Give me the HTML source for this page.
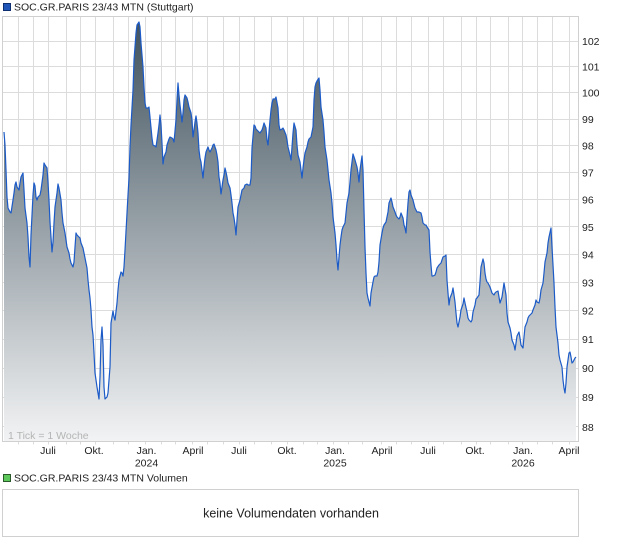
<!DOCTYPE html>
<html>
<head>
<meta charset="utf-8">
<style>
html,body{margin:0;padding:0;background:#fff;}
svg{display:block;font-family:"Liberation Sans",Arial,sans-serif;}
</style>
</head>
<body>
<svg width="620" height="546" viewBox="0 0 620 546" xmlns="http://www.w3.org/2000/svg">
<defs>
<linearGradient id="g" x1="0" y1="16" x2="0" y2="441" gradientUnits="userSpaceOnUse">
<stop offset="0" stop-color="#3e505c"/>
<stop offset="1" stop-color="#f2f3f4"/>
</linearGradient>
</defs>

<!-- top legend -->
<rect x="3.5" y="3.5" width="7" height="7" fill="#1f56b8" stroke="#0d2f70" stroke-width="1"/>
<text x="14" y="10.5" font-size="10.5" fill="#222">SOC.GR.PARIS 23/43 MTN (Stuttgart)</text>

<!-- grid -->
<g stroke="#dcdcdc" stroke-width="1" fill="none">
<path d="M2.5,41.5H578.5M2.5,66.5H578.5M2.5,92.5H578.5M2.5,119.5H578.5M2.5,145.5H578.5M2.5,172.5H578.5M2.5,199.5H578.5M2.5,226.5H578.5M2.5,254.5H578.5M2.5,282.5H578.5M2.5,310.5H578.5M2.5,339.5H578.5M2.5,368.5H578.5M2.5,397.5H578.5M2.5,426.5H578.5"/>
<path d="M18.5,16.5V441.5M33.5,16.5V441.5M48.5,16.5V441.5M66.5,16.5V441.5M80.5,16.5V441.5M95.5,16.5V441.5M113.5,16.5V441.5M128.5,16.5V441.5M145.5,16.5V441.5M161.5,16.5V441.5M175.5,16.5V441.5M192.5,16.5V441.5M207.5,16.5V441.5M223.5,16.5V441.5M239.5,16.5V441.5M254.5,16.5V441.5M271.5,16.5V441.5M287.5,16.5V441.5M303.5,16.5V441.5M317.5,16.5V441.5M333.5,16.5V441.5M348.5,16.5V441.5M362.5,16.5V441.5M381.5,16.5V441.5M396.5,16.5V441.5M411.5,16.5V441.5M428.5,16.5V441.5M443.5,16.5V441.5M461.5,16.5V441.5M476.5,16.5V441.5M490.5,16.5V441.5M508.5,16.5V441.5M522.5,16.5V441.5M537.5,16.5V441.5M552.5,16.5V441.5M569.5,16.5V441.5"/>
<path d="M18.5,441.5V444.5M33.5,441.5V444.5M48.5,441.5V444.5M66.5,441.5V444.5M80.5,441.5V444.5M95.5,441.5V444.5M113.5,441.5V444.5M128.5,441.5V444.5M145.5,441.5V444.5M161.5,441.5V444.5M175.5,441.5V444.5M192.5,441.5V444.5M207.5,441.5V444.5M223.5,441.5V444.5M239.5,441.5V444.5M254.5,441.5V444.5M271.5,441.5V444.5M287.5,441.5V444.5M303.5,441.5V444.5M317.5,441.5V444.5M333.5,441.5V444.5M348.5,441.5V444.5M362.5,441.5V444.5M381.5,441.5V444.5M396.5,441.5V444.5M411.5,441.5V444.5M428.5,441.5V444.5M443.5,441.5V444.5M461.5,441.5V444.5M476.5,441.5V444.5M490.5,441.5V444.5M508.5,441.5V444.5M522.5,441.5V444.5M537.5,441.5V444.5M552.5,441.5V444.5M569.5,441.5V444.5"/>
</g>

<!-- area fill -->
<path fill="url(#g)" stroke="none" d="M4,441 L4,132 5,145 6,170 7,197 8,208 10,212 11,213 13,200 14,193 15,185 16,182 17,187 19,190 20,183 21,177 23,173 24,190 25,208 27,223 28,237 29,257 30,267 31,235 32,215 33,195 34,183 35,186 36,197 37,200 38,197 40,195 41,190 43,175 44,163 45,165 47,168 48,182 49,200 50,222 52,252 53,242 54,223 55,207 57,193 58,184 59,188 61,200 62,213 63,223 65,233 66,240 67,247 69,253 70,259 71,263 73,267 74,262 75,247 76,233 77,235 79,237 80,238 81,243 83,248 84,253 85,258 87,268 88,280 89,290 90,298 91,310 92,327 93,335 94,353 95,373 97,387 98,393 99,399 100,377 101,340 102,327 103,345 104,387 105,399 107,397 108,393 110,367 111,323 113,311 114,317 115,320 117,303 118,290 119,280 121,272 122,273 123,276 124,267 125,250 127,213 128,195 129,178 130,147 131,125 133,90 134,60 136,33 137,25 139,22 140,27 141,43 143,67 144,87 145,103 146,108 148,108 149,107 150,117 152,138 153,145 155,146 156,147 158,133 159,125 160,115 161,125 162,143 163,164 164,157 166,152 167,145 168,142 169,139 170,137 172,138 173,139 174,142 176,120 177,100 178,83 179,95 180,105 181,113 182,122 183,113 184,100 185,95 187,98 188,102 189,107 191,113 192,120 193,137 194,130 195,122 196,116 197,123 198,133 199,150 200,158 201,162 202,170 203,178 204,167 205,158 206,152 208,147 209,150 210,152 212,148 213,145 214,144 216,150 217,155 218,162 219,177 220,183 221,194 222,187 223,180 224,175 225,168 226,172 227,177 228,183 230,188 231,195 232,203 233,213 234,218 235,225 236,235 237,220 238,207 240,200 241,195 242,190 244,188 245,185 247,184 248,185 250,185 251,178 252,148 254,125 255,126 256,129 258,131 259,132 260,133 262,130 263,127 264,123 266,128 267,140 268,145 269,132 270,120 271,110 272,103 273,99 275,99 276,97 278,108 279,125 280,130 282,129 283,128 284,130 286,135 287,140 288,147 290,155 291,160 292,147 293,133 294,123 296,130 297,145 298,155 300,162 301,170 302,178 303,168 304,160 305,153 307,147 308,142 309,139 311,137 313,127 314,100 315,87 316,83 317,81 319,78 320,90 321,107 323,120 324,132 325,147 327,160 328,170 329,180 331,193 332,203 333,217 335,233 336,245 337,260 338,270 339,257 340,245 341,237 342,230 343,227 345,223 346,213 347,203 349,193 350,182 351,170 353,154 354,157 355,160 357,167 358,173 359,182 360,170 361,163 362,156 363,170 364,210 365,247 366,273 367,293 368,298 369,302 370,306 371,293 373,282 374,277 375,276 377,276 378,272 379,262 380,245 382,233 383,228 384,225 386,222 387,217 388,212 389,203 391,198 392,202 393,207 395,212 396,215 397,217 399,219 400,217 401,213 403,218 404,225 405,228 406,233 407,217 408,203 409,192 410,190 411,195 413,200 414,204 415,208 417,212 418,212 419,212 421,213 422,217 423,223 425,225 426,225 427,227 429,230 430,252 431,265 432,276 433,276 435,275 436,272 437,268 439,265 441,263 442,260 443,257 445,256 446,255 447,280 448,293 449,305 450,298 452,293 453,288 454,295 455,302 456,313 457,323 458,327 459,322 460,317 461,310 463,304 464,298 465,303 467,312 468,318 469,320 471,322 472,320 473,312 475,305 476,299 477,298 479,295 480,282 481,267 483,259 484,263 485,273 486,279 487,282 488,283 490,287 491,290 492,293 494,295 495,293 496,292 498,291 499,297 500,303 502,297 503,290 504,283 506,295 507,313 508,322 510,328 511,333 512,340 514,345 515,350 516,343 517,336 519,332 520,338 521,345 523,348 524,337 525,327 527,322 528,318 529,316 531,314 532,313 533,310 535,305 536,300 537,302 539,303 540,298 541,290 543,283 544,273 545,262 547,253 548,243 549,237 551,228 552,247 554,283 555,307 556,327 558,343 559,355 560,360 562,367 563,380 564,388 565,393 566,383 567,367 569,353 570,352 571,357 572,363 573,362 575,358 576,357 L576,441 Z"/>

<!-- line -->
<polyline fill="none" stroke="#1c5bc7" stroke-width="1.2" stroke-linejoin="round" points="4,132 5,145 6,170 7,197 8,208 10,212 11,213 13,200 14,193 15,185 16,182 17,187 19,190 20,183 21,177 23,173 24,190 25,208 27,223 28,237 29,257 30,267 31,235 32,215 33,195 34,183 35,186 36,197 37,200 38,197 40,195 41,190 43,175 44,163 45,165 47,168 48,182 49,200 50,222 52,252 53,242 54,223 55,207 57,193 58,184 59,188 61,200 62,213 63,223 65,233 66,240 67,247 69,253 70,259 71,263 73,267 74,262 75,247 76,233 77,235 79,237 80,238 81,243 83,248 84,253 85,258 87,268 88,280 89,290 90,298 91,310 92,327 93,335 94,353 95,373 97,387 98,393 99,399 100,377 101,340 102,327 103,345 104,387 105,399 107,397 108,393 110,367 111,323 113,311 114,317 115,320 117,303 118,290 119,280 121,272 122,273 123,276 124,267 125,250 127,213 128,195 129,178 130,147 131,125 133,90 134,60 136,33 137,25 139,22 140,27 141,43 143,67 144,87 145,103 146,108 148,108 149,107 150,117 152,138 153,145 155,146 156,147 158,133 159,125 160,115 161,125 162,143 163,164 164,157 166,152 167,145 168,142 169,139 170,137 172,138 173,139 174,142 176,120 177,100 178,83 179,95 180,105 181,113 182,122 183,113 184,100 185,95 187,98 188,102 189,107 191,113 192,120 193,137 194,130 195,122 196,116 197,123 198,133 199,150 200,158 201,162 202,170 203,178 204,167 205,158 206,152 208,147 209,150 210,152 212,148 213,145 214,144 216,150 217,155 218,162 219,177 220,183 221,194 222,187 223,180 224,175 225,168 226,172 227,177 228,183 230,188 231,195 232,203 233,213 234,218 235,225 236,235 237,220 238,207 240,200 241,195 242,190 244,188 245,185 247,184 248,185 250,185 251,178 252,148 254,125 255,126 256,129 258,131 259,132 260,133 262,130 263,127 264,123 266,128 267,140 268,145 269,132 270,120 271,110 272,103 273,99 275,99 276,97 278,108 279,125 280,130 282,129 283,128 284,130 286,135 287,140 288,147 290,155 291,160 292,147 293,133 294,123 296,130 297,145 298,155 300,162 301,170 302,178 303,168 304,160 305,153 307,147 308,142 309,139 311,137 313,127 314,100 315,87 316,83 317,81 319,78 320,90 321,107 323,120 324,132 325,147 327,160 328,170 329,180 331,193 332,203 333,217 335,233 336,245 337,260 338,270 339,257 340,245 341,237 342,230 343,227 345,223 346,213 347,203 349,193 350,182 351,170 353,154 354,157 355,160 357,167 358,173 359,182 360,170 361,163 362,156 363,170 364,210 365,247 366,273 367,293 368,298 369,302 370,306 371,293 373,282 374,277 375,276 377,276 378,272 379,262 380,245 382,233 383,228 384,225 386,222 387,217 388,212 389,203 391,198 392,202 393,207 395,212 396,215 397,217 399,219 400,217 401,213 403,218 404,225 405,228 406,233 407,217 408,203 409,192 410,190 411,195 413,200 414,204 415,208 417,212 418,212 419,212 421,213 422,217 423,223 425,225 426,225 427,227 429,230 430,252 431,265 432,276 433,276 435,275 436,272 437,268 439,265 441,263 442,260 443,257 445,256 446,255 447,280 448,293 449,305 450,298 452,293 453,288 454,295 455,302 456,313 457,323 458,327 459,322 460,317 461,310 463,304 464,298 465,303 467,312 468,318 469,320 471,322 472,320 473,312 475,305 476,299 477,298 479,295 480,282 481,267 483,259 484,263 485,273 486,279 487,282 488,283 490,287 491,290 492,293 494,295 495,293 496,292 498,291 499,297 500,303 502,297 503,290 504,283 506,295 507,313 508,322 510,328 511,333 512,340 514,345 515,350 516,343 517,336 519,332 520,338 521,345 523,348 524,337 525,327 527,322 528,318 529,316 531,314 532,313 533,310 535,305 536,300 537,302 539,303 540,298 541,290 543,283 544,273 545,262 547,253 548,243 549,237 551,228 552,247 554,283 555,307 556,327 558,343 559,355 560,360 562,367 563,380 564,388 565,393 566,383 567,367 569,353 570,352 571,357 572,363 573,362 575,358 576,357"/>

<!-- plot border -->
<rect x="2.5" y="16.5" width="576" height="425" fill="none" stroke="#d0d0d0" stroke-width="1"/>

<text x="8" y="439" font-size="10.5" fill="#b4b4b4">1 Tick = 1 Woche</text>

<!-- y labels -->
<g font-size="10.5" fill="#222">
<text x="582" y="45">102</text>
<text x="582" y="70.7">101</text>
<text x="582" y="96.7">100</text>
<text x="582" y="123">99</text>
<text x="582" y="149.5">98</text>
<text x="582" y="176.3">97</text>
<text x="582" y="203.4">96</text>
<text x="582" y="230.8">95</text>
<text x="582" y="258.4">94</text>
<text x="582" y="286.4">93</text>
<text x="582" y="314.6">92</text>
<text x="582" y="343.2">91</text>
<text x="582" y="372">90</text>
<text x="582" y="401.2">89</text>
<text x="582" y="430.8">88</text>
</g>

<!-- x labels -->
<g font-size="10.5" fill="#222" text-anchor="middle">
<text x="48" y="454">Juli</text>
<text x="94" y="454">Okt.</text>
<text x="146.5" y="454">Jan.</text>
<text x="146.5" y="466.5">2024</text>
<text x="193" y="454">April</text>
<text x="239" y="454">Juli</text>
<text x="287" y="454">Okt.</text>
<text x="335" y="454">Jan.</text>
<text x="335" y="466.5">2025</text>
<text x="382" y="454">April</text>
<text x="428" y="454">Juli</text>
<text x="475" y="454">Okt.</text>
<text x="523" y="454">Jan.</text>
<text x="523" y="466.5">2026</text>
<text x="569" y="454">April</text>
</g>

<!-- volume legend -->
<rect x="3.5" y="474.5" width="7" height="7" fill="#5cc85c" stroke="#2a5a2a" stroke-width="1"/>
<text x="14" y="481.5" font-size="10.5" fill="#222">SOC.GR.PARIS 23/43 MTN Volumen</text>

<rect x="2.5" y="489.5" width="576" height="47" fill="#fff" stroke="#d0d0d0" stroke-width="1"/>
<text x="291" y="517.5" font-size="12.5" fill="#222" text-anchor="middle">keine Volumendaten vorhanden</text>
</svg>
</body>
</html>
